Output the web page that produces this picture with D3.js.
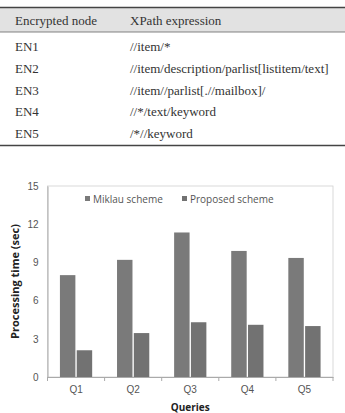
<!DOCTYPE html>
<html>
<head>
<meta charset="utf-8">
<script src="https://cdn.jsdelivr.net/npm/d3@7"></script>
<style>
  body { margin: 0; background: #fff; }
</style>
</head>
<body>
<div id="chart"></div>
<script>
// table rows
var tableHeader = ["Encrypted node", "XPath expression"];
var nodes = ["EN1", "EN2", "EN3", "EN4", "EN5"];
var xpaths = ["//item/*", "//item/description/parlist[listitem/text]", "//item//parlist[.//mailbox]/", "//*/text/keyword", "/*//keyword"];

// chart data
var queries = ["Q1", "Q2", "Q3", "Q4", "Q5"];
var seriesNames = ["Miklau scheme", "Proposed scheme"];
var miklau = [8.0, 9.2, 11.35, 9.9, 9.35];
var proposed = [2.1, 3.45, 4.3, 4.1, 4.0];
var yTicks = [0, 3, 6, 9, 12, 15];

var W = 345, H = 413;
var svg = d3.select("#chart").append("svg")
    .attr("width", W)
    .attr("height", H);

// ---- table ----
var tbl = svg.append("g").attr("font-family", "'Liberation Serif', 'DejaVu Serif', serif")
    .attr("font-size", 13).attr("fill", "#333");

tbl.append("rect").attr("x", 0).attr("y", 7.5).attr("width", W).attr("height", 24.5).attr("fill", "#e2e2e2");
tbl.append("line").attr("x1", 0).attr("x2", W).attr("y1", 7.5).attr("y2", 7.5).attr("stroke", "#444").attr("stroke-width", 1.6);
tbl.append("line").attr("x1", 0).attr("x2", W).attr("y1", 32).attr("y2", 32).attr("stroke", "#666").attr("stroke-width", 0.8);
tbl.append("line").attr("x1", 0).attr("x2", W).attr("y1", 145.5).attr("y2", 145.5).attr("stroke", "#444").attr("stroke-width", 1.6);

var colX = [15, 130];
tableHeader.forEach(function(h, i) {
    tbl.append("text").attr("x", colX[i]).attr("y", 25).text(h);
});

var rowY = d3.scalePoint().domain(nodes).range([51, 138]);
nodes.forEach(function(n, i) {
    tbl.append("text").attr("x", colX[0]).attr("y", rowY(n)).text(n);
    tbl.append("text").attr("x", colX[1]).attr("y", rowY(n)).text(xpaths[i]);
});

// ---- bar chart ----
var plot = {left: 47.5, right: 333, top: 186, bottom: 377};

var x = d3.scaleBand()
    .domain(queries)
    .range([plot.left, plot.right]);

var y = d3.scaleLinear()
    .domain([0, 15])
    .range([plot.bottom, plot.top]);

var xSub = d3.scaleBand()
    .domain(seriesNames)
    .range([0, x.bandwidth()])
    .paddingInner(0.08)
    .paddingOuter(0.74);

var colors = d3.scaleOrdinal().domain(seriesNames).range(["#7a7a7a", "#727272"]);

var g = svg.append("g").attr("font-family", "'Segoe UI', 'Open Sans', 'DejaVu Sans', sans-serif");

// plot border
g.append("rect")
    .attr("x", plot.left).attr("y", plot.top)
    .attr("width", plot.right - plot.left).attr("height", plot.bottom - plot.top)
    .attr("fill", "none").attr("stroke", "#d0d0d0").attr("stroke-width", 0.8);

// y axis
var yAxis = g.append("g")
    .attr("transform", "translate(" + plot.left + ",0)")
    .call(d3.axisLeft(y).tickValues(yTicks).tickSize(0).tickPadding(9));
yAxis.select(".domain").attr("stroke", "#aaa");
yAxis.selectAll("text").attr("font-size", 10).attr("fill", "#555");

// x axis
var xAxis = g.append("g")
    .attr("transform", "translate(0," + plot.bottom + ")")
    .call(d3.axisBottom(x).tickSize(0).tickPadding(9));
xAxis.select(".domain").attr("stroke", "#aaa");
xAxis.selectAll("text").attr("font-size", 10).attr("fill", "#555");

// category separators on x axis
g.selectAll(".sep")
    .data(queries.concat(["end"]))
    .enter()
    .append("line")
        .attr("x1", function(d, i) { return plot.left + i * x.step(); })
        .attr("x2", function(d, i) { return plot.left + i * x.step(); })
        .attr("y1", plot.bottom)
        .attr("y2", plot.bottom + 4)
        .attr("stroke", "#aaa");

// bars
var series = [miklau, proposed];
seriesNames.forEach(function(s, si) {
    g.selectAll(".bar" + si)
        .data(queries)
        .enter()
        .append("rect")
            .attr("x", function(d) { return x(d) + xSub(s); })
            .attr("y", function(d, i) { return y(series[si][i]); })
            .attr("width", xSub.bandwidth())
            .attr("height", function(d, i) { return plot.bottom - y(series[si][i]); })
            .attr("fill", colors(s));
});

// legend
var legendX = [85, 182];
seriesNames.forEach(function(s, i) {
    g.append("rect").attr("x", legendX[i]).attr("y", 196).attr("width", 5).attr("height", 5).attr("fill", colors(s));
    g.append("text").attr("x", legendX[i] + 8).attr("y", 202.5)
        .attr("font-size", 10).attr("fill", "#555").text(s);
});

// axis titles
g.append("text")
    .attr("transform", "translate(19," + ((plot.top + plot.bottom) / 2) + ") rotate(-90)")
    .attr("text-anchor", "middle")
    .attr("font-size", 11).attr("font-weight", "bold").attr("fill", "#222")
    .text("Processing time (sec)");

g.append("text")
    .attr("x", (plot.left + plot.right) / 2)
    .attr("y", 411)
    .attr("text-anchor", "middle")
    .attr("font-size", 10).attr("font-weight", "bold").attr("fill", "#222")
    .text("Queries");
</script>
</body>
</html>
